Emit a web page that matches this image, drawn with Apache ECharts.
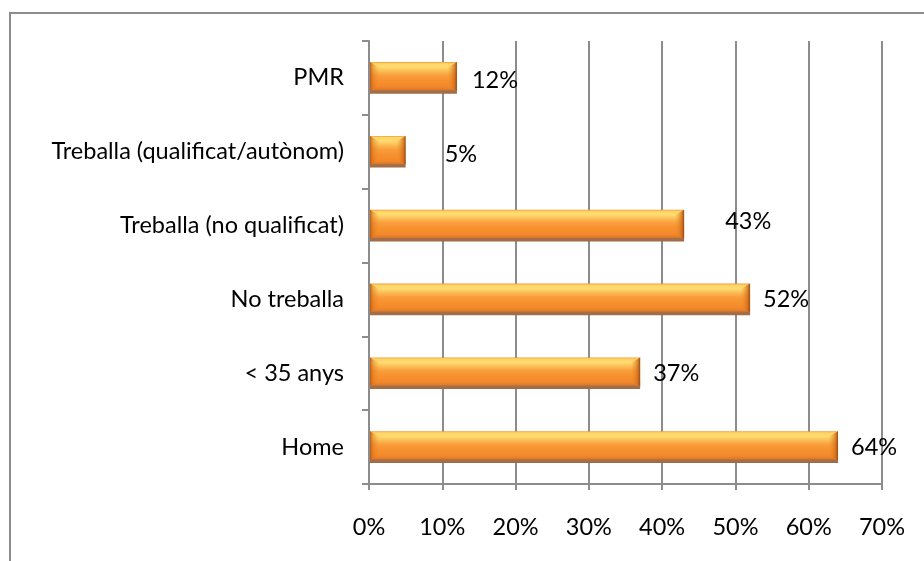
<!DOCTYPE html>
<html>
<head>
<meta charset="utf-8">
<script src="https://cdn.jsdelivr.net/npm/echarts@6/dist/echarts.min.js"></script>
<style>
  html, body { margin: 0; padding: 0; background: #fff; }
  #chart { width: 924px; height: 561px; }
</style>
</head>
<body>
<div id="chart"></div>
<script>
// Categories from bottom to top of the vertical axis
const categories = ['Home', '< 35 anys', 'No treballa', 'Treballa (no qualificat)', 'Treballa (qualificat/autònom)', 'PMR'];
// Share of each group, in percent
const values = [64, 37, 52, 43, 5, 12];
// Horizontal axis ticks
const xTicks = [0, 10, 20, 30, 40, 50, 60, 70];

// Extra nudges for a few value labels (dx, dy in px)
const labelNudge = {
  'Treballa (qualificat/autònom)': [26, 3],
  'Treballa (no qualificat)': [28, -4],
  'PMR': [2, 3]
};

const FONT = 'Lato, "Open Sans", sans-serif';
const FS = 23.5;

const chart = echarts.init(document.getElementById('chart'), null, { renderer: 'canvas' });

function renderBar(params, api) {
  const idx = api.value(1);
  const val = api.value(0);
  const p0 = api.coord([0, idx]);
  const p1 = api.coord([val, idx]);
  const band = api.size([0, 1])[1];
  const h = band * 0.43;
  const x0 = p0[0] + 1, x1 = p1[0], yc = p0[1];
  const y0 = yc - h / 2, y1 = yc + h / 2;
  const shadow = 3;
  const yb = y1 - shadow;
  const bw = Math.min(9, (x1 - x0) / 3);
  const nudge = labelNudge[categories[idx]] || [0, 0];
  const children = [
    {
      type: 'rect',
      shape: { x: x0, y: y0, width: x1 - x0, height: h },
      style: {
        fill: new echarts.graphic.LinearGradient(0, 0, 0, 1, [
          { offset: 0.00, color: '#F2963A' },
          { offset: 0.05, color: '#FFD563' },
          { offset: 0.16, color: '#FFDB72' },
          { offset: 0.28, color: '#FBBE55' },
          { offset: 0.42, color: '#F99D3D' },
          { offset: 0.58, color: '#F7922F' },
          { offset: 0.78, color: '#F3882A' },
          { offset: 0.87, color: '#DC7A2A' },
          { offset: 0.90, color: '#A86F48' },
          { offset: 1.00, color: '#9E6B47' }
        ])
      }
    },
    {
      type: 'polygon',
      shape: { points: [[x0, y0], [x0 + bw, y0 + bw * 0.6], [x0 + bw, yb - bw * 0.6], [x0, yb]] },
      style: {
        fill: new echarts.graphic.LinearGradient(0, 0, 1, 0, [
          { offset: 0, color: 'rgba(185,90,15,0.95)' },
          { offset: 0.3, color: 'rgba(215,110,25,0.55)' },
          { offset: 1, color: 'rgba(240,140,40,0.05)' }
        ])
      }
    },
    {
      type: 'polygon',
      shape: { points: [[x1, y0], [x1 - bw, y0 + bw * 0.6], [x1 - bw, yb - bw * 0.6], [x1, yb]] },
      style: {
        fill: new echarts.graphic.LinearGradient(1, 0, 0, 0, [
          { offset: 0, color: 'rgba(150,75,20,1)' },
          { offset: 0.3, color: 'rgba(205,105,25,0.7)' },
          { offset: 1, color: 'rgba(240,140,40,0.05)' }
        ])
      }
    },
    {
      type: 'text',
      style: {
        text: val + '%',
        x: x1 + 13 + nudge[0],
        y: yc + nudge[1],
        align: 'left',
        verticalAlign: 'middle',
        fill: '#000',
        font: FS + 'px ' + FONT
      }
    }
  ];
  return { type: 'group', children };
}

chart.setOption({
  animation: false,
  backgroundColor: '#fff',
  graphic: [{
    type: 'rect',
    shape: { x: 10, y: 13, width: 1000, height: 700 },
    style: { fill: 'none', stroke: '#8c8c8c', lineWidth: 2 },
    silent: true
  }],
  grid: { left: 369, right: 42, top: 41, bottom: 77 },
  xAxis: {
    type: 'value',
    min: xTicks[0],
    max: xTicks[xTicks.length - 1],
    interval: xTicks[1] - xTicks[0],
    axisLine: { show: true, lineStyle: { color: '#8c8c8c', width: 2 } },
    axisTick: { show: true, length: 6, lineStyle: { color: '#8c8c8c', width: 2 } },
    splitLine: { show: true, lineStyle: { color: '#8c8c8c', width: 2 } },
    axisLabel: {
      formatter: '{value}%', color: '#000', fontSize: FS, fontFamily: FONT, margin: 31
    }
  },
  yAxis: {
    type: 'category',
    data: categories,
    axisLine: { show: true, lineStyle: { color: '#8c8c8c', width: 2 } },
    axisTick: { show: true, length: 7, lineStyle: { color: '#8c8c8c', width: 2 } },
    axisLabel: { color: '#000', fontSize: FS, fontFamily: FONT, margin: 25 }
  },
  series: [{
    type: 'custom',
    renderItem: renderBar,
    encode: { x: 0, y: 1 },
    data: values.map((v, i) => [v, i]),
    clip: false
  }]
});
</script>
</body>
</html>
